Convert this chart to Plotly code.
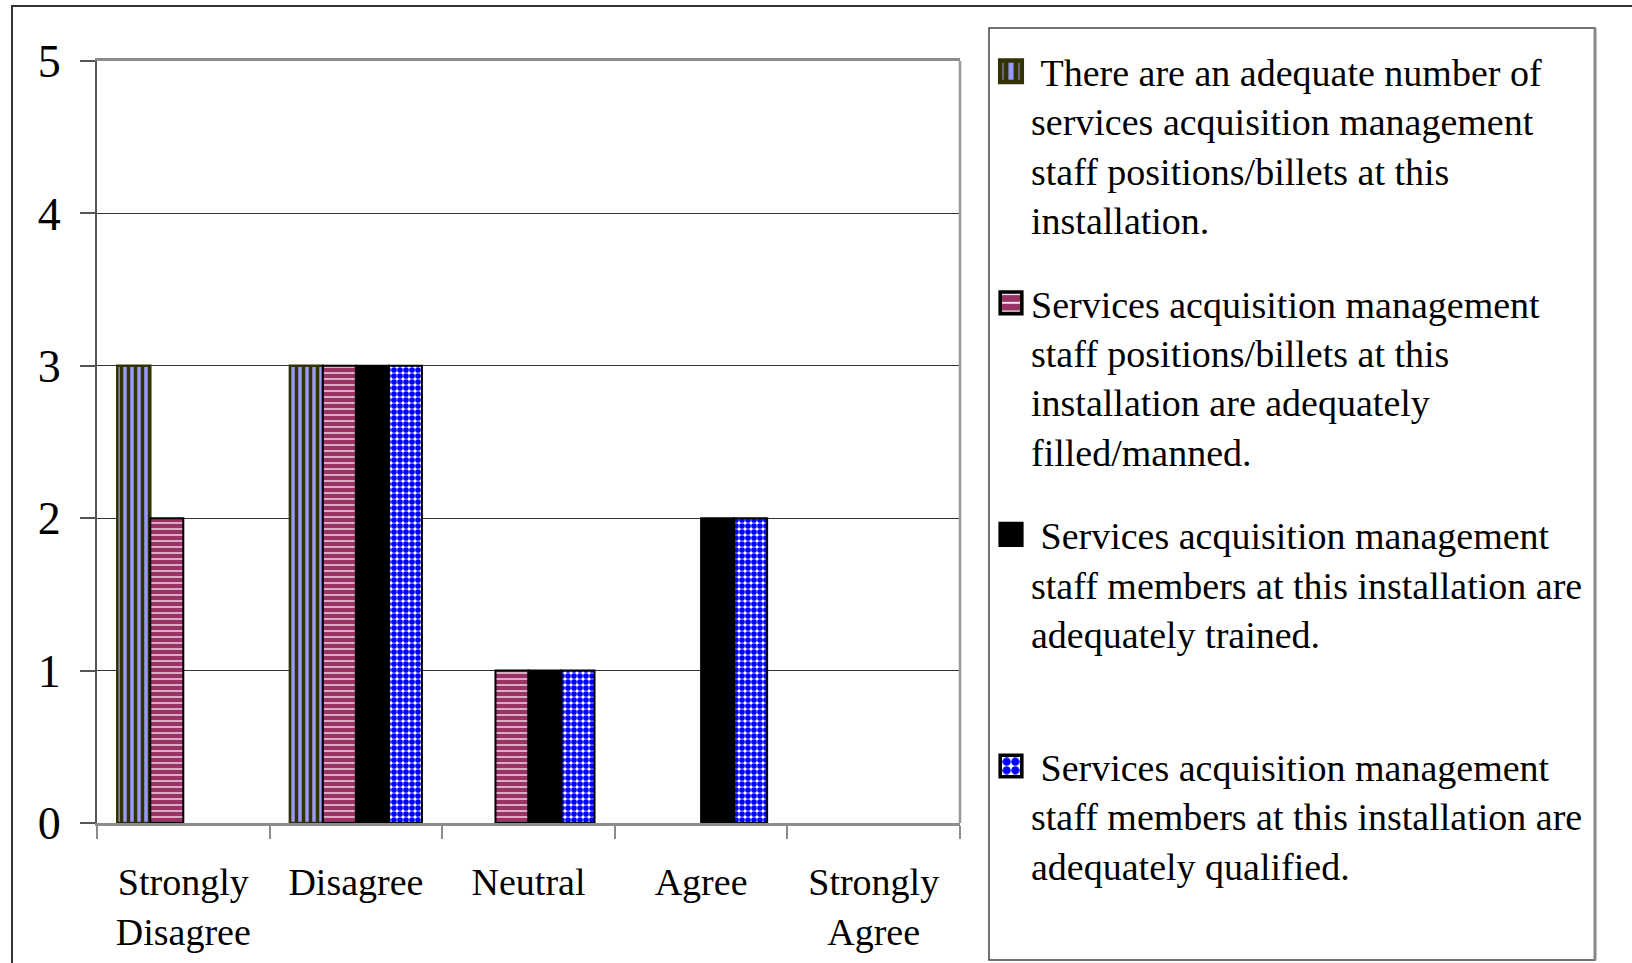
import plotly.graph_objects as go

# Survey responses (number of respondents) per statement
categories = ["Strongly<br>Disagree", "Disagree", "Neutral", "Agree", "Strongly<br>Agree"]
positions_adequate = [3, 3, 0, 0, 0]
positions_filled = [2, 3, 1, 0, 0]
staff_trained = [0, 3, 1, 2, 0]
staff_qualified = [0, 3, 1, 2, 0]

legend_names = [
    "\u00a0There are an adequate number of<br>services acquisition management<br>staff positions/billets at this<br>installation.",
    "Services acquisition management<br>staff positions/billets at this<br>installation are adequately<br>filled/manned.",
    "\u00a0Services acquisition management<br>staff members at this installation are<br>adequately trained.<br>\u00a0",
    "\u00a0Services acquisition management<br>staff members at this installation are<br>adequately qualified.",
]

W, H = 1632, 963
PL, PR, PT, PB = 97, 960, 61, 823  # plot area in pixels
FONT = "Liberation Serif, Times New Roman, serif"


def px_x(x):
    return (x - PL) / (PR - PL)


def px_y(y):
    return (PB - y) / (PB - PT)


def nz(vals):
    # empty bars are left out so no outline is drawn on the axis
    return [v if v else None for v in vals]


styles = [
    dict(pattern=dict(shape="|", bgcolor="#9999FF", fgcolor="#333300", size=7, solidity=0.5,
                      fgopacity=1),
         line=dict(color="#333300", width=2.5)),
    dict(pattern=dict(shape="-", bgcolor="#FFFFFF", fgcolor="#993366", size=6, solidity=0.8,
                      fgopacity=1),
         line=dict(color="#000000", width=2)),
    dict(color="#000000", line=dict(color="#000000", width=2)),
    dict(pattern=dict(shape=".", bgcolor="#FFFFFF", fgcolor="#0000FF", size=6, solidity=0.7,
                      fgopacity=1),
         line=dict(color="#000000", width=2)),
]

series = [positions_adequate, positions_filled, staff_trained, staff_qualified]

fig = go.Figure()
for i, (vals, name, st) in enumerate(zip(series, legend_names, styles)):
    marker = dict(st)
    if "color" not in marker:
        marker["color"] = "#FFFFFF"
    fig.add_trace(go.Bar(
        x=categories, y=nz(vals), name=name, marker=marker,
        legendgroup=f"g{i}",
    ))

shapes = [
    # outer frame
    dict(type="rect", xref="paper", yref="paper",
         x0=px_x(12), x1=px_x(1700), y0=px_y(6), y1=px_y(1000),
         line=dict(color="#333333", width=2), layer="below"),
    # right edge of the plot area
    dict(type="line", xref="paper", yref="paper", x0=1, x1=1, y0=0, y1=1,
         line=dict(color="#999999", width=2.5)),
    # legend box
    dict(type="rect", xref="paper", yref="paper",
         x0=px_x(989), x1=px_x(1595), y0=px_y(28), y1=px_y(960),
         line=dict(color="#444444", width=1.5)),
    dict(type="line", xref="paper", yref="paper",
         x0=px_x(1595), x1=px_x(1595), y0=px_y(28), y1=px_y(960),
         line=dict(color="#888888", width=3)),
]

fig.update_layout(
    width=W, height=H,
    margin=dict(l=PL, r=W - PR, t=PT, b=H - PB, autoexpand=False),
    paper_bgcolor="white", plot_bgcolor="white",
    barmode="group", bargap=0.235, bargroupgap=0,
    font=dict(family=FONT, color="black"),
    showlegend=True,
    legend=dict(
        xref="container", yref="container",
        x=991 / W, y=1 - 40 / H, xanchor="left", yanchor="top",
        font=dict(family=FONT, size=38, color="black"),
        bgcolor="rgba(0,0,0,0)", borderwidth=0,
        traceorder="grouped", tracegroupgap=31, valign="top",
        maxheight=1,
    ),
    shapes=shapes,
)

fig.update_xaxes(
    type="category", showline=True, mirror=True, linecolor="#8c8c8c", linewidth=2.5,
    ticks="outside", tickson="boundaries", ticklen=13, tickcolor="#8c8c8c", tickwidth=2,
    showgrid=False, tickfont=dict(family=FONT, size=38, color="black"),
    ticklabelstandoff=24,
)
fig.update_yaxes(
    range=[0, 5], dtick=1, showline=True, linecolor="#555555", linewidth=2,
    ticks="outside", ticklen=15, tickcolor="#555555", tickwidth=2,
    showgrid=True, gridcolor="#333333", gridwidth=1, zeroline=False,
    tickfont=dict(family=FONT, size=46, color="black"),
    ticklabelstandoff=10,
)

# enlarge the legend keys
post_js = """
var gd = document.querySelector('.js-plotly-plot');
gd.querySelectorAll('.legend .legendpoints path').forEach(function(p){
  var t = p.getAttribute('transform') || '';
  p.setAttribute('transform', t + ' scale(1.8)');
});
"""

fig.write_html("out.html", post_script=post_js)
